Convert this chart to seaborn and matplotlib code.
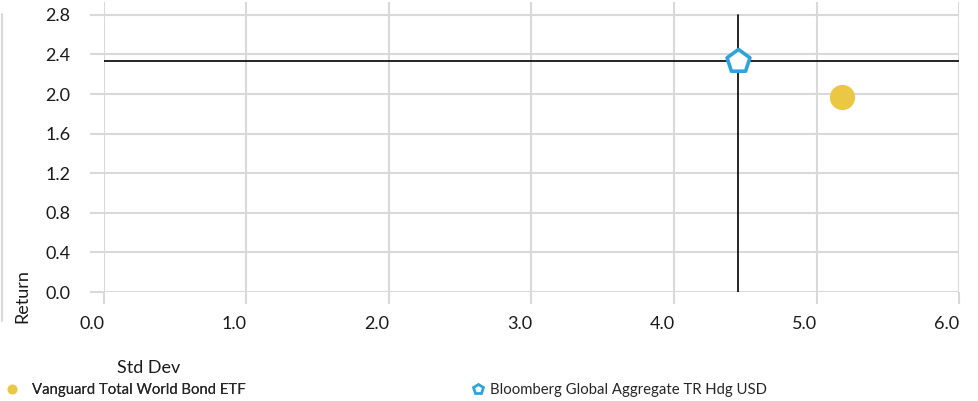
import matplotlib
matplotlib.use("Agg")
import matplotlib.pyplot as plt
from matplotlib.lines import Line2D
import matplotlib.transforms as mtransforms
import seaborn as sns
import pandas as pd

names = ["Vanguard Total World Bond ETF", "Bloomberg Global Aggregate TR Hdg USD"]
std_dev = [5.18, 4.45]
returns = [1.97, 2.33]
colors = ["#EBC844", "#2FA4DC"]
x_ticks = [0.0, 1.0, 2.0, 3.0, 4.0, 5.0, 6.0]
y_ticks = [0.0, 0.4, 0.8, 1.2, 1.6, 2.0, 2.4, 2.8]

df = pd.DataFrame({"name": names, "std": std_dev, "ret": returns})

sns.set_theme(style="white")
plt.rcParams["font.family"] = ["Lato", "DejaVu Sans"]

fig = plt.figure(figsize=(9.79, 4.01), dpi=100)
ax = fig.add_axes([0.1062, 0.2718, 0.8734, 0.7232])

grid_c = "#D9D9D9"
txt_c = "#1a1a1a"
ax.set_xlim(0, 6.0)
ax.set_ylim(0, 2.93)
ax.set_xticks(x_ticks)
ax.set_yticks(y_ticks)
ax.set_xticklabels([f"{v:.1f}" for v in x_ticks])
ax.set_yticklabels([f"{v:.1f}" for v in y_ticks])
ax.grid(True, color=grid_c, linewidth=1.5)
ax.set_axisbelow(True)
for s in ax.spines.values():
    s.set_visible(False)
ax.tick_params(axis="y", length=10, width=1.5, color=grid_c, pad=14,
               labelsize=13, labelcolor=txt_c, left=True)
ax.tick_params(axis="x", length=8.6, width=1.5, color=grid_c, pad=9,
               labelsize=13, labelcolor=txt_c, bottom=True)
# x labels sit slightly left of their gridlines
shift = mtransforms.ScaledTranslation(-12 / 100, 0, fig.dpi_scale_trans)
for lbl in ax.get_xticklabels():
    lbl.set_transform(lbl.get_transform() + shift)

# benchmark crosshair
bx, by = std_dev[1], returns[1]
ax.plot([0, 6.0], [by, by], color="black", linewidth=1.2, zorder=2)
ax.plot([bx, bx], [0, 2.8], color="black", linewidth=1.2, zorder=2)

sns.scatterplot(data=df, x="std", y="ret", hue="name", style="name",
                palette=colors, markers={names[0]: "o", names[1]: "p"},
                s=260, legend=False, ax=ax, zorder=3, linewidth=0)
# benchmark marker drawn hollow
coll = ax.collections[-1]
coll.set_visible(False)
ax.scatter([bx], [by], marker="p", s=300, facecolor="white",
           edgecolor=colors[1], linewidth=2.6, zorder=4)
ax.scatter([std_dev[0]], [returns[0]], marker="o", s=330,
           color=colors[0], linewidth=0, zorder=4)

ax.set_xlabel("")
ax.set_ylabel("")
fig.text(0.0143, 0.195, "Return", rotation=90, ha="left", va="bottom",
         fontsize=13, color=txt_c)
fig.text(0.1195, 0.082, "Std Dev", ha="left", va="center",
         fontsize=13, color=txt_c)

# faint frame at left edge
fig.add_artist(Line2D([0.002, 0.002], [0.2, 0.965], color=grid_c,
                      linewidth=1.5, transform=fig.transFigure))

h1 = Line2D([], [], marker="o", linestyle="", color=colors[0], markersize=6)
h2 = Line2D([], [], marker="p", linestyle="", markerfacecolor="white",
            markeredgecolor=colors[1], markeredgewidth=2, markersize=7)
leg1 = fig.legend([h1], [names[0]], loc="center left",
                  bbox_to_anchor=(0.006, 0.027), frameon=False,
                  fontsize=10.7, handlelength=0.8, handletextpad=0.95,
                  borderaxespad=0, borderpad=0)
leg2 = fig.legend([h2], [names[1]], loc="center left",
                  bbox_to_anchor=(0.482, 0.027), frameon=False,
                  fontsize=10.7, handlelength=0.8, handletextpad=0.45,
                  borderaxespad=0, borderpad=0)
fig.add_artist(leg1)

fig.savefig("out.png", dpi=100)
